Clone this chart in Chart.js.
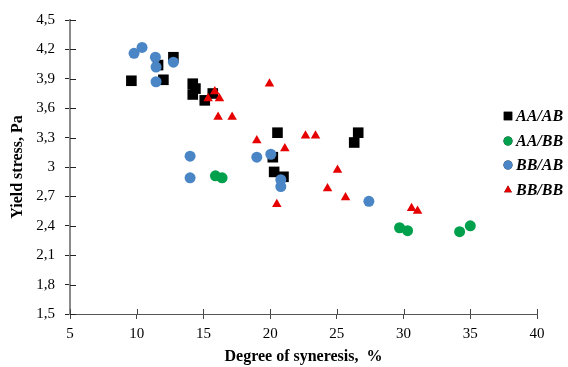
<!DOCTYPE html>
<html>
<head>
<meta charset="utf-8">
<script src="https://cdn.jsdelivr.net/npm/chart.js@4/dist/chart.umd.min.js"></script>
<style>
  html, body { margin: 0; padding: 0; background: #fff; }
  #wrap { width: 568px; height: 367px; }
</style>
</head>
<body>
<div id="wrap"><canvas id="yieldChart" width="568" height="367"></canvas></div>
<script>
// Yield stress vs degree of syneresis

const seriesNames = ['AA/AB', 'AA/BB', 'BB/AB', 'BB/BB'];

const aaAbX = [9.6, 12.75, 11.6, 12.0, 14.2, 14.4, 14.2, 15.1, 15.7, 20.55, 26.6, 26.3, 20.2, 20.3, 21.0];
const aaAbY = [3.88, 4.12, 4.04, 3.89, 3.85, 3.80, 3.74, 3.68, 3.75, 3.35, 3.35, 3.25, 3.10, 2.95, 2.90];

const aaBbX = [15.9, 16.4, 29.7, 30.3, 34.2, 35.0];
const aaBbY = [2.91, 2.89, 2.38, 2.35, 2.34, 2.40];

const bbAbX = [9.8, 10.4, 11.4, 11.45, 12.75, 11.45, 14.0, 14.0, 19.0, 20.05, 20.8, 20.8, 27.4];
const bbAbY = [4.16, 4.22, 4.12, 4.02, 4.07, 3.87, 3.11, 2.89, 3.10, 3.13, 2.87, 2.80, 2.65];

const bbBbX = [15.35, 15.85, 16.2, 16.1, 17.15, 19.95, 19.0, 22.65, 23.4, 21.1, 25.05, 24.3, 25.65, 20.5, 30.6, 31.05];
const bbBbY = [3.70, 3.77, 3.70, 3.51, 3.51, 3.85, 3.27, 3.32, 3.32, 3.19, 2.97, 2.78, 2.69, 2.62, 2.58, 2.55];

const xTicks = [5, 10, 15, 20, 25, 30, 35, 40];
const yTicks = [1.5, 1.8, 2.1, 2.4, 2.7, 3.0, 3.3, 3.6, 3.9, 4.2, 4.5];

const serif = 'Liberation Serif, Times New Roman, serif';

function toPoints(xs, ys) {
    return xs.map((x, i) => ({ x: x, y: ys[i] }));
}

function commaLabel(v) {
    return String(Number(v.toFixed(1))).replace('.', ',');
}

// ticks that cross the axis line, like the Excel original
const crossTicks = {
    id: 'crossTicks',
    afterDraw(chart) {
        const ctx = chart.ctx;
        const xs = chart.scales.x;
        const ys = chart.scales.y;
        const area = chart.chartArea;
        ctx.save();
        ctx.lineWidth = 1;
        ctx.strokeStyle = '#444';
        xTicks.forEach(v => {
            const px = Math.round(xs.getPixelForValue(v)) + 0.5;
            ctx.beginPath();
            ctx.moveTo(px, area.bottom);
            ctx.lineTo(px, area.bottom - 5);
            ctx.stroke();
        });
        ctx.strokeStyle = '#222';
        yTicks.forEach(v => {
            const py = Math.round(ys.getPixelForValue(v)) + 0.5;
            ctx.beginPath();
            ctx.moveTo(area.left, py);
            ctx.lineTo(area.left + 6, py);
            ctx.stroke();
        });
        ctx.restore();
    }
};

// legend drawn inside the plot on the right
const sideLegend = {
    id: 'sideLegend',
    afterDraw(chart) {
        const ctx = chart.ctx;
        const rowY = [116, 141, 165, 190];
        ctx.save();
        chart.data.datasets.forEach((ds, i) => {
            Chart.helpers.drawPoint(ctx, {
                pointStyle: ds.pointStyle,
                radius: ds.pointStyle === 'rect' ? 6 : 4.5,
                rotation: 0,
                borderWidth: 0
            }, 508, rowY[i]);
            ctx.fillStyle = ds.backgroundColor;
            ctx.fill();
            ctx.fillStyle = '#000';
            ctx.font = 'italic bold 16px ' + serif;
            ctx.textAlign = 'left';
            ctx.textBaseline = 'middle';
            ctx.fillText(ds.label, 516, rowY[i] + 1);
        });
        ctx.restore();
    }
};

const ctx = document.getElementById('yieldChart');
new Chart(ctx.getContext('2d'), {
    type: 'scatter',
    data: {
        datasets: [
            {
                label: seriesNames[0],
                data: toPoints(aaAbX, aaAbY),
                pointStyle: 'rect',
                pointRadius: 7.5,
                backgroundColor: '#000000',
                borderWidth: 0,
                order: 4
            },
            {
                label: seriesNames[1],
                data: toPoints(aaBbX, aaBbY),
                pointStyle: 'circle',
                pointRadius: 5.5,
                backgroundColor: '#00a04c',
                borderWidth: 0,
                order: 3
            },
            {
                label: seriesNames[2],
                data: toPoints(bbAbX, bbAbY),
                pointStyle: 'circle',
                pointRadius: 5.5,
                backgroundColor: '#4a86c6',
                borderWidth: 0,
                order: 2
            },
            {
                label: seriesNames[3],
                data: toPoints(bbBbX, bbBbY),
                pointStyle: 'triangle',
                pointRadius: 5.5,
                backgroundColor: '#e60000',
                borderWidth: 0,
                order: 1
            }
        ]
    },
    options: {
        responsive: false,
        animation: false,
        layout: {
            autoPadding: false,
            padding: { top: 20, right: 31, left: 0, bottom: 0 }
        },
        plugins: {
            legend: { display: false },
            tooltip: { enabled: false }
        },
        scales: {
            x: {
                type: 'linear',
                min: 5,
                max: 40,
                afterBuildTicks: scale => { scale.ticks = xTicks.map(v => ({ value: v })); },
                afterFit: scale => { scale.height = 53; },
                border: { color: '#555', width: 1 },
                grid: {
                    drawOnChartArea: false,
                    drawTicks: true,
                    tickLength: 5,
                    color: '#444'
                },
                ticks: {
                    padding: 6,
                    color: '#000',
                    font: { family: serif, size: 15 }
                },
                title: {
                    display: true,
                    text: 'Degree of syneresis,  %',
                    color: '#000',
                    padding: { top: 0, bottom: 1 },
                    font: { family: serif, size: 16, weight: 'bold' }
                }
            },
            y: {
                type: 'linear',
                min: 1.5,
                max: 4.5,
                afterBuildTicks: scale => { scale.ticks = yTicks.map(v => ({ value: v })); },
                afterFit: scale => { scale.width = 70; },
                border: { color: '#8a8a8a', width: 2 },
                grid: {
                    drawOnChartArea: false,
                    drawTicks: true,
                    tickLength: 5,
                    color: '#222'
                },
                ticks: {
                    padding: 10,
                    color: '#000',
                    font: { family: serif, size: 15 },
                    callback: v => commaLabel(v)
                },
                title: {
                    display: true,
                    text: 'Yield stress, Pa',
                    color: '#000',
                    padding: { top: 8, bottom: 0 },
                    font: { family: serif, size: 16, weight: 'bold' }
                }
            }
        }
    },
    plugins: [crossTicks, sideLegend]
});
</script>
</body>
</html>
